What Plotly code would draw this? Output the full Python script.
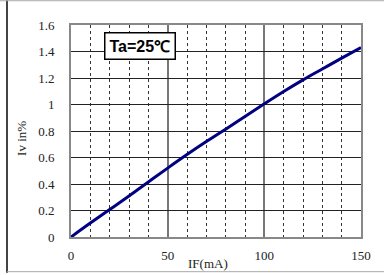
import plotly.graph_objects as go

if_ma = [0, 10, 20, 30, 40, 50, 60, 70, 80, 90, 100, 110, 120, 130, 140, 150]
iv_rel = [0, 0.105, 0.207, 0.31, 0.415, 0.52, 0.622, 0.72, 0.814, 0.91, 1.005, 1.098, 1.186, 1.268, 1.35, 1.43]
y_ticks = [0, 0.2, 0.4, 0.6, 0.8, 1, 1.2, 1.4, 1.6]
y_tick_labels = ["0", "0.2", "0.4", "0.6", "0.8", "1", "1.2", "1.4", "1.6"]
x_ticks = [0, 50, 100, 150]

W, H = 384, 275
L, R, T, B = 71, 23, 25, 36
pw, ph = W - L - R, H - T - B

def px(xp):
    return (xp - L) / pw

def py(yp):
    return (H - B - yp) / ph

serif = "'Liberation Serif', 'Times New Roman', serif"

fig = go.Figure()
fig.add_trace(go.Scatter(x=if_ma, y=iv_rel, mode="lines",
                         line=dict(color="#000080", width=3), line_shape="spline",
                         showlegend=False, hoverinfo="skip"))

fig.update_layout(
    width=W, height=H,
    margin=dict(l=L, r=R, t=T, b=B),
    paper_bgcolor="white", plot_bgcolor="white",
    font=dict(family=serif, size=13, color="#222"),
    xaxis=dict(range=[0, 150], tickvals=x_ticks, showgrid=True, gridcolor="#777", gridwidth=1.5,
               minor=dict(dtick=10, showgrid=True, gridcolor="#333", griddash="dot", gridwidth=1),
               zeroline=False, showline=True, linecolor="#888", linewidth=2, mirror=True,
               ticks="", ticklabelstandoff=5, tickfont=dict(family=serif, size=13, color="#222")),
    yaxis=dict(range=[0, 1.6], tickvals=y_ticks, ticktext=y_tick_labels, showgrid=True,
               gridcolor="#222", gridwidth=1, zeroline=False, showline=True, linecolor="#888",
               linewidth=2, mirror=True, ticks="", ticklabelstandoff=12,
               tickfont=dict(family=serif, size=13, color="#222")),
    shapes=[
        dict(type="line", xref="paper", yref="paper", x0=px(7), x1=px(7), y0=py(0), y1=py(275),
             line=dict(color="#444", width=2)),
        dict(type="line", xref="paper", yref="paper", x0=px(0), x1=px(384), y0=py(0.5), y1=py(0.5),
             line=dict(color="#aaa", width=1)),
        dict(type="line", xref="paper", yref="paper", x0=px(7), x1=px(384), y0=py(274), y1=py(274),
             line=dict(color="#aaa", width=1)),
    ],
    annotations=[
        dict(text="<b>Ta=25℃</b>", xref="paper", yref="paper", x=px(140), y=py(46.5),
             showarrow=False, font=dict(family="'Liberation Sans', Arial, sans-serif", size=16, color="black"),
             bgcolor="white", bordercolor="black", borderwidth=1.5, borderpad=4,
             xanchor="center", yanchor="middle"),
        dict(text="Iv in%", xref="paper", yref="paper", x=px(22), y=py(140), textangle=-90,
             showarrow=False, font=dict(family=serif, size=13, color="#222"),
             xanchor="center", yanchor="middle"),
        dict(text="IF(mA)", xref="paper", yref="paper", x=px(208), y=py(266),
             showarrow=False, font=dict(family=serif, size=13, color="#222"),
             xanchor="center", yanchor="middle"),
    ],
)

fig.write_html("out.html", config={"displayModeBar": False},
               post_script="document.body.style.margin='0';document.body.style.padding='0';")
